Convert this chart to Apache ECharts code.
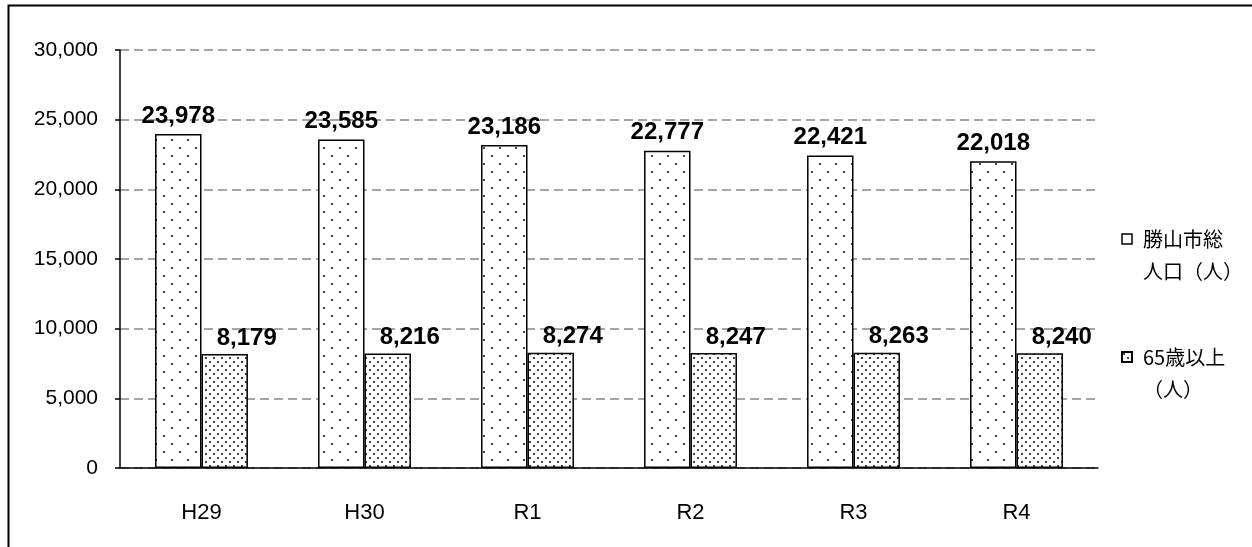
<!DOCTYPE html>
<html><head><meta charset="utf-8">
<script src="https://cdn.jsdelivr.net/npm/echarts@6/dist/echarts.min.js"></script>
<style>html,body{margin:0;padding:0;background:#fff}#c{width:1252px;height:547px}</style>
</head><body><div id="c"></div>
<script>
const categories = ['H29','H30','R1','R2','R3','R4'];
const totalPop = [23978,23585,23186,22777,22421,22018];
const over65 = [8179,8216,8274,8247,8263,8240];
const seriesNames = ['勝山市総\n人口（人）','65歳以上\n（人）'];

function pattern(size, pts){
  const c = document.createElement('canvas');
  c.width = size; c.height = size;
  const g = c.getContext('2d');
  g.fillStyle = '#fff'; g.fillRect(0,0,size,size);
  g.fillStyle = '#444';
  pts.forEach(p=>{ g.fillRect(p[0],p[1],2,2); });
  return c;
}
const sparse = pattern(16, [[3,3],[11,11]]);
const dense = pattern(8, [[1,1],[5,5]]);

const cjk = '"Noto Sans CJK JP", "Noto Sans", sans-serif';
const latin = '"Liberation Sans", Arial, sans-serif';
const chart = echarts.init(document.getElementById('c'));
chart.setOption({
  animation:false,
  backgroundColor:'#fff',
  textStyle:{fontFamily:latin},
  graphic:[{type:'rect',shape:{x:8.5,y:5.5,width:1400,height:700},style:{fill:'none',stroke:'#000',lineWidth:2},silent:true}],
  grid:{left:120,right:154,top:50,bottom:79},
  legend:{
    orient:'vertical', left:1116, top:192, itemGap:34,
    itemWidth:10, itemHeight:10,
    icon:'rect',
    formatter:n=>{ const ls = n.split('\n'); return '{t| }\n' + ls.map(l=>'{t|'+l+'}').join('\n'); },
    textStyle:{color:'#000', fontFamily:cjk,
      rich:{t:{fontSize:20, lineHeight:32, color:'#000', fontFamily:cjk, padding:[0,0,0,6]}}},
    data:[{name:seriesNames[0], itemStyle:{color:'#fff',borderColor:'#000',borderWidth:1.5}}, seriesNames[1]]
  },
  xAxis:{
    type:'category', data:categories,
    axisLine:{lineStyle:{color:'#000',width:1.5}},
    axisTick:{inside:true,length:6,lineStyle:{color:'#000',width:1.5}},
    axisLabel:{color:'#000',fontSize:22,margin:34,fontFamily:latin}
  },
  yAxis:{
    type:'value', min:0, max:30000, interval:5000,
    axisLine:{show:true,lineStyle:{color:'#000',width:1.5}},
    axisTick:{show:true,length:5,lineStyle:{color:'#000',width:1.5}},
    axisLabel:{color:'#000',fontSize:21,margin:22,fontFamily:latin,
      formatter:v=>v.toLocaleString('en-US')},
    splitLine:{lineStyle:{color:'#888',width:1.5,type:[9,5]}}
  },
  series:[
    {name:seriesNames[0], type:'bar', data:totalPop, barGap:'0%', barCategoryGap:'43%',
     itemStyle:{color:{image:sparse,repeat:'repeat'},borderColor:'#000',borderWidth:1.5},
     label:{show:true,position:'top',distance:6,color:'#000',fontSize:24,fontWeight:'bold',fontFamily:latin,
       formatter:p=>p.value.toLocaleString('en-US')}},
    {name:seriesNames[1], type:'bar', data:over65,
     itemStyle:{color:{image:dense,repeat:'repeat'},borderColor:'#000',borderWidth:1.5},
     label:{show:true,position:'top',distance:4,offset:[22,0],color:'#000',fontSize:24,fontWeight:'bold',fontFamily:latin,
       formatter:p=>p.value.toLocaleString('en-US')}}
  ]
});
</script></body></html>
